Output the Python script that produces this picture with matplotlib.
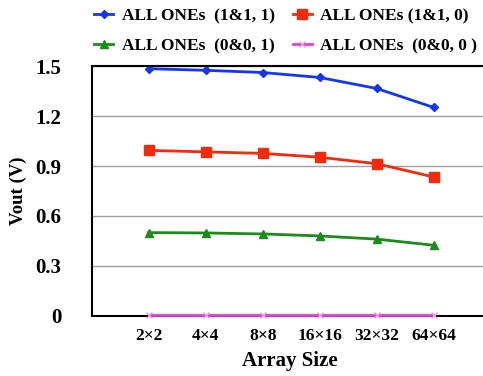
import numpy as np
import matplotlib.pyplot as plt

# data
sizes = ['2×2', '4×4', '8×8', '16×16', '32×32', '64×64']
ones_11_1 = [1.485, 1.475, 1.462, 1.432, 1.366, 1.252]
ones_11_0 = [0.994, 0.985, 0.976, 0.953, 0.914, 0.834]
ones_00_1 = [0.500, 0.498, 0.492, 0.480, 0.461, 0.424]
ones_00_0 = [0.008, 0.008, 0.008, 0.008, 0.008, 0.008]

plt.rcParams['font.family'] = ['Liberation Serif', 'DejaVu Serif']
plt.rcParams['font.weight'] = 'bold'

fig = plt.figure(figsize=(4.83, 3.76), dpi=100)
ax = fig.add_axes([0.19, 0.16, 0.82, 0.664])

x = np.arange(1, len(sizes) + 1)

l1, = ax.plot(x, ones_11_1, color='#1535f5', marker='D', markersize=4, lw=2,
              label='ALL ONEs  (1&1, 1)')
l2, = ax.plot(x, ones_11_0, color='#f52a0a', marker='s', markersize=7, lw=2,
              label='ALL ONEs (1&1, 0)')
l3, = ax.plot(x, ones_00_1, color='#1a8c1a', marker='^', markersize=6, lw=2,
              label='ALL ONEs  (0&0, 1)')
l4, = ax.plot(x, ones_00_0, color='#e040d8', marker='x', markersize=5, lw=2,
              markeredgecolor='#f09ae8', label='ALL ONEs  (0&0, 0 )',
              zorder=5, clip_on=False)

ax.set_xlim(0, 6.95)
ax.set_ylim(0, 1.5)
ax.set_xticks(x)
ax.set_xticklabels(sizes, fontsize=12.5, fontweight='bold')
ax.set_yticks([0, 0.3, 0.6, 0.9, 1.2, 1.5])
ax.set_yticklabels(['0', '0.3', '0.6', '0.9', '1.2', '1.5'],
                   fontsize=15, fontweight='bold')
ax.tick_params(axis='x', length=0, pad=9)
ax.tick_params(axis='y', length=0, pad=22)
for lab in ax.get_yticklabels():
    lab.set_horizontalalignment('right')

ax.grid(axis='y', color='#a0a0a0', lw=1)
ax.set_axisbelow(True)
ax.spines['right'].set_visible(False)
for s in ['left', 'top', 'bottom']:
    ax.spines[s].set_linewidth(1.5)
    ax.spines[s].set_color('black')

ax.set_xlabel('Array Size', fontsize=15, fontweight='bold', labelpad=5)
ax.set_ylabel('Vout (V)', fontsize=13.5, fontweight='bold', labelpad=6)

# legend filled row by row: blue, red / green, magenta
ax.legend([l1, l3, l2, l4], [l1.get_label(), l3.get_label(),
                             l2.get_label(), l4.get_label()],
          loc='lower center', bbox_to_anchor=(0.49, 1.0), ncol=2,
          frameon=False, fontsize=12.5, handlelength=1.1,
          columnspacing=1.0, handletextpad=0.5, labelspacing=0.8,
          borderaxespad=0.3)

fig.savefig('out.png', dpi=100)
